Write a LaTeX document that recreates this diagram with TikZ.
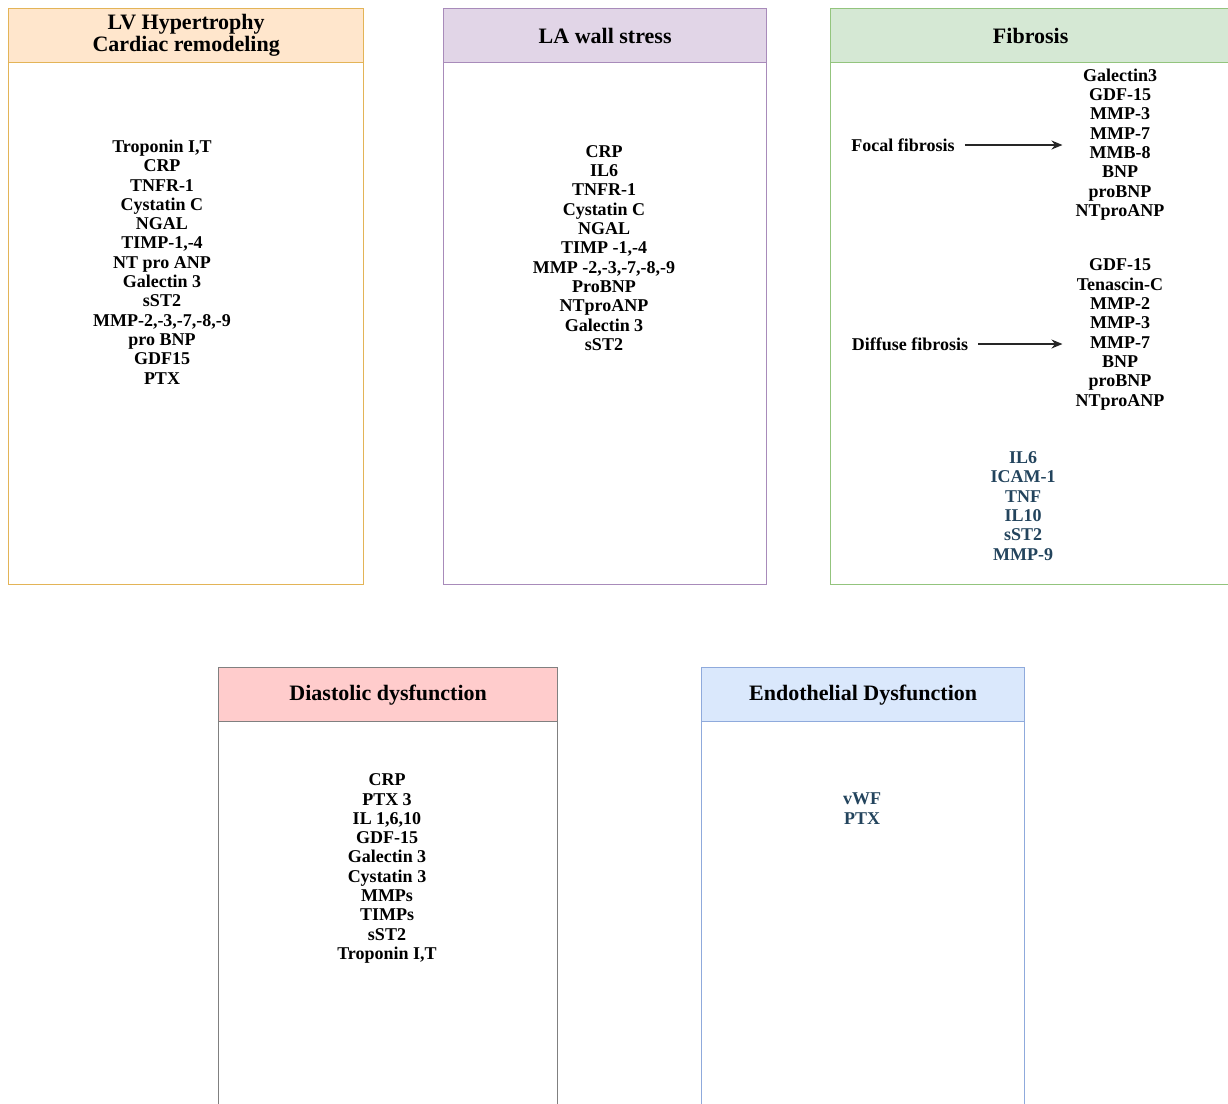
\documentclass[tikz,border=0pt]{standalone}
\usepackage{fontspec}
\setmainfont{Liberation Serif}
\usetikzlibrary{shapes,arrows.meta,positioning}

\definecolor{lvfill}{HTML}{FFE6CC}
\definecolor{lvline}{HTML}{E3B457}
\definecolor{lafill}{HTML}{E1D5E7}
\definecolor{laline}{HTML}{A88BBA}
\definecolor{fibfill}{HTML}{D5E8D4}
\definecolor{fibline}{HTML}{93C47D}
\definecolor{ddfill}{HTML}{FFCCCC}
\definecolor{ddline}{HTML}{808080}
\definecolor{edfill}{HTML}{DAE8FC}
\definecolor{edline}{HTML}{8FAADC}
\definecolor{slate}{HTML}{23445D}

\begin{document}
\begin{tikzpicture}[
    x=1pt, y=-1pt,
    head node/.style={rectangle,draw,line width=1.3pt,anchor=north west,minimum height=54pt,inner sep=0pt,align=center,font=\fontsize{22}{22}\selectfont\bfseries},
    body node/.style={rectangle,draw,line width=1.3pt,anchor=north west,inner sep=0pt},
    list node/.style={align=center,inner sep=0pt,font=\fontsize{18}{19.3}\selectfont\bfseries},
    side node/.style={inner sep=4pt,font=\fontsize{18}{19.3}\selectfont\bfseries},
    arrow/.style={-{Stealth[length=11pt,width=9pt]},line width=1.3pt,draw=black!85,shorten <=6pt,shorten >=13pt}
]

\fill[white] (0,0) rectangle (1228,1103);
\useasboundingbox (0,0) rectangle (1228,1103);

% LV hypertrophy
\node[body node, draw=lvline, minimum width=355pt, minimum height=522pt] (lv body) at (8,62) {};
\node[head node, draw=lvline, fill=lvfill, minimum width=355pt] (lv head) at (8,8) {LV Hypertrophy\\Cardiac remodeling};
\node[list node] (lv list) at (162,262) {Troponin I,T\\CRP\\TNFR-1\\Cystatin C\\NGAL\\TIMP-1,-4\\NT pro ANP\\Galectin 3\\sST2\\MMP-2,-3,-7,-8,-9\\pro BNP\\GDF15\\PTX};

% LA wall stress
\node[body node, draw=laline, minimum width=323pt, minimum height=522pt] (la body) at (443,62) {};
\node[head node, draw=laline, fill=lafill, minimum width=323pt] (la head) at (443,8) {LA wall stress};
\node[list node] (la list) at (604,248) {CRP\\IL6\\TNFR-1\\Cystatin C\\NGAL\\TIMP -1,-4\\MMP -2,-3,-7,-8,-9\\ProBNP\\NTproANP\\Galectin 3\\sST2};

% Fibrosis
\node[body node, draw=fibline, minimum width=400pt, minimum height=522pt] (fib body) at (830,62) {};
\node[head node, draw=fibline, fill=fibfill, minimum width=400pt] (fib head) at (830,8) {Fibrosis};
\node[side node] (focal) at (903,145) {Focal fibrosis};
\node[list node] (focal list) at (1120,144.5) {Galectin3\\GDF-15\\MMP-3\\MMP-7\\MMB-8\\BNP\\proBNP\\NTproANP};
\node[side node] (diffuse) at (910,344) {Diffuse fibrosis};
\node[list node] (diffuse list) at (1120,334.5) {GDF-15\\Tenascin-C\\MMP-2\\MMP-3\\MMP-7\\BNP\\proBNP\\NTproANP};
\node[list node, text=slate] (fib list) at (1023,506) {IL6\\ICAM-1\\TNF\\IL10\\sST2\\MMP-9};

% Diastolic dysfunction
\node[body node, draw=ddline, minimum width=339pt, minimum height=400pt] (dd body) at (218,721) {};
\node[head node, draw=ddline, fill=ddfill, minimum width=339pt] (dd head) at (218,667) {Diastolic dysfunction};
\node[list node] (dd list) at (387,868.5) {CRP\\PTX 3\\IL 1,6,10\\GDF-15\\Galectin 3\\Cystatin 3\\MMPs\\TIMPs\\sST2\\Troponin I,T};

% Endothelial dysfunction
\node[body node, draw=edline, minimum width=323pt, minimum height=400pt] (ed body) at (701,721) {};
\node[head node, draw=edline, fill=edfill, minimum width=323pt] (ed head) at (701,667) {Endothelial Dysfunction};
\node[list node, text=slate] (ed list) at (862,808.5) {vWF\\PTX};

% Arrows
\draw[arrow] (focal) -- (focal -| focal list.west);
\draw[arrow] (diffuse) -- (diffuse -| diffuse list.west);

\end{tikzpicture}
\end{document}
